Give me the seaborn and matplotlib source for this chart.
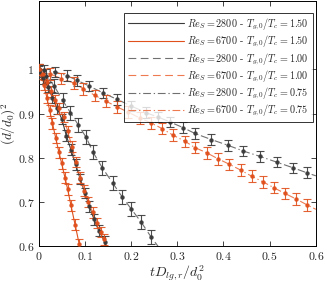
import numpy as np
import matplotlib
matplotlib.use("Agg")
import matplotlib.pyplot as plt
import matplotlib.ticker as mticker
import seaborn as sns

# ── Data ──────────────────────────────────────────────────────────────────────
# Re_S = 2800, Tg0/Tc = 1.50
x_2800_150 = [0.000, 0.010, 0.020, 0.030, 0.040, 0.050, 0.060, 0.070, 0.080,
              0.090, 0.100, 0.110, 0.120, 0.130, 0.143]
y_2800_150 = [0.995, 0.980, 0.960, 0.936, 0.912, 0.888, 0.850, 0.818, 0.785,
              0.752, 0.720, 0.690, 0.660, 0.635, 0.610]
# Re_S = 6700, Tg0/Tc = 1.50
x_6700_150 = [0.000, 0.006, 0.012, 0.018, 0.024, 0.030, 0.037, 0.044, 0.050,
              0.057, 0.063, 0.070, 0.079, 0.088]
y_6700_150 = [1.000, 0.990, 0.965, 0.935, 0.907, 0.878, 0.845, 0.812, 0.787,
              0.755, 0.728, 0.692, 0.648, 0.604]
# Re_S = 2800, Tg0/Tc = 1.00
x_2800_100 = [0.000, 0.017, 0.034, 0.052, 0.069, 0.086, 0.103, 0.118, 0.138,
              0.160, 0.181, 0.201, 0.222, 0.243]
y_2800_100 = [0.995, 0.985, 0.962, 0.930, 0.902, 0.874, 0.846, 0.812, 0.777,
              0.743, 0.711, 0.683, 0.654, 0.621]
# Re_S = 6700, Tg0/Tc = 1.00
x_6700_100 = [0.000, 0.009, 0.018, 0.027, 0.036, 0.045, 0.054, 0.063, 0.072,
              0.081, 0.090, 0.099, 0.108, 0.117, 0.126, 0.134, 0.141]
y_6700_100 = [1.000, 0.990, 0.972, 0.950, 0.930, 0.912, 0.892, 0.860, 0.825,
              0.790, 0.755, 0.725, 0.700, 0.676, 0.652, 0.632, 0.615]
# Re_S = 2800, Tg0/Tc = 0.75
x_2800_075 = [0.000, 0.012, 0.036, 0.061, 0.084, 0.110, 0.139, 0.170, 0.201,
              0.232, 0.259, 0.284, 0.313, 0.338, 0.374, 0.410, 0.443, 0.479,
              0.515, 0.551, 0.580]
y_2800_075 = [1.000, 0.998, 0.994, 0.986, 0.975, 0.962, 0.947, 0.932, 0.917,
              0.902, 0.892, 0.881, 0.868, 0.855, 0.841, 0.828, 0.815, 0.803,
              0.790, 0.777, 0.766]
# Re_S = 6700, Tg0/Tc = 0.75
x_6700_075 = [0.000, 0.025, 0.049, 0.077, 0.097, 0.122, 0.146, 0.170, 0.194,
              0.219, 0.243, 0.267, 0.291, 0.317, 0.338, 0.364, 0.389, 0.413,
              0.437, 0.461, 0.486, 0.509, 0.533, 0.558, 0.581]
y_6700_075 = [1.000, 0.990, 0.979, 0.969, 0.956, 0.941, 0.928, 0.915, 0.903,
              0.890, 0.879, 0.866, 0.851, 0.837, 0.823, 0.811, 0.797, 0.785,
              0.772, 0.758, 0.745, 0.732, 0.719, 0.706, 0.693]

# error bar half-heights per series
errs = [0.012, 0.012, 0.016, 0.012, 0.012, 0.013]

labels = [r"$Re_S = 2800$ - $T_{g,0}/T_c = 1.50$",
          r"$Re_S = 6700$ - $T_{g,0}/T_c = 1.50$",
          r"$Re_S = 2800$ - $T_{g,0}/T_c = 1.00$",
          r"$Re_S = 6700$ - $T_{g,0}/T_c = 1.00$",
          r"$Re_S = 2800$ - $T_{g,0}/T_c = 0.75$",
          r"$Re_S = 6700$ - $T_{g,0}/T_c = 0.75$"]

# ── Style ─────────────────────────────────────────────────────────────────────
sns.set_style("ticks")
plt.rcParams["font.family"] = ["cmr10", "DejaVu Serif"]
plt.rcParams["mathtext.fontset"] = "cm"
plt.rcParams["axes.formatter.use_mathtext"] = True

GRAY = "#3a3a3a"
ORANGE = "#e0501c"
GRAY_L = "#707070"
ORANGE_L = "#ee7a50"

series = [
    (x_2800_150, y_2800_150, GRAY,   GRAY,     "-"),
    (x_6700_150, y_6700_150, ORANGE, ORANGE,   "-"),
    (x_2800_100, y_2800_100, GRAY,   GRAY_L,   (0, (7, 4))),
    (x_6700_100, y_6700_100, ORANGE, ORANGE_L, (0, (7, 4))),
    (x_2800_075, y_2800_075, GRAY,   GRAY_L,   (0, (7, 2.5, 1.2, 2.5))),
    (x_6700_075, y_6700_075, ORANGE, ORANGE_L, (0, (7, 2.5, 1.2, 2.5))),
]

fig = plt.figure(figsize=(3.27, 2.86), dpi=100)
ax = fig.add_axes([0.118, 0.14, 0.848, 0.8565])

for (xs, ys, c, lc, ls), e, lab in zip(series, errs, labels):
    xs = np.asarray(xs); ys = np.asarray(ys)
    # extend the trend of the last points to the plot edge
    k, b = np.polyfit(xs[-4:], ys[-4:], 1)
    x_end = min(0.6, (0.58 - b) / k)
    xl = np.append(xs, x_end)
    yl = np.append(ys, k * x_end + b)
    sns.lineplot(x=xl, y=yl, ax=ax, color=lc, linewidth=0.8, label=lab,
                 sort=False, estimator=None)
    ax.lines[-1].set_linestyle(ls)
    ax.errorbar(xs, ys, yerr=e, fmt="o", color=c, ecolor=c, markersize=2.2,
                elinewidth=0.8, capsize=2.8, capthick=0.8, alpha=0.9, zorder=3)

ax.set_xlim(0, 0.6)
ax.set_ylim(0.6, 1.155)
ax.set_xticks([0, 0.1, 0.2, 0.3, 0.4, 0.5, 0.6])
ax.set_yticks([0.6, 0.7, 0.8, 0.9, 1.0])
fmt = mticker.FuncFormatter(lambda v, _: f"${v:g}$")
ax.xaxis.set_major_formatter(fmt)
ax.yaxis.set_major_formatter(fmt)
ax.tick_params(direction="in", top=True, right=True, length=3.5, width=0.6,
               labelsize=8.5, pad=3)
for s in ax.spines.values():
    s.set_linewidth(0.7)
    s.set_color("black")

ax.set_xlabel(r"$tD_{lg,r}/d_0^2$", fontsize=10, labelpad=1)
ax.set_ylabel(r"$(d/d_0)^2$", fontsize=9.5, labelpad=0)

leg = ax.legend(loc="upper right", bbox_to_anchor=(0.988, 0.95), fontsize=7.3,
                frameon=True, fancybox=False, edgecolor="black",
                handlelength=5.6, handletextpad=0.3, labelspacing=0.2,
                borderpad=0.35, borderaxespad=0)
leg.get_frame().set_linewidth(0.7)

fig.savefig("out.png", dpi=100)
